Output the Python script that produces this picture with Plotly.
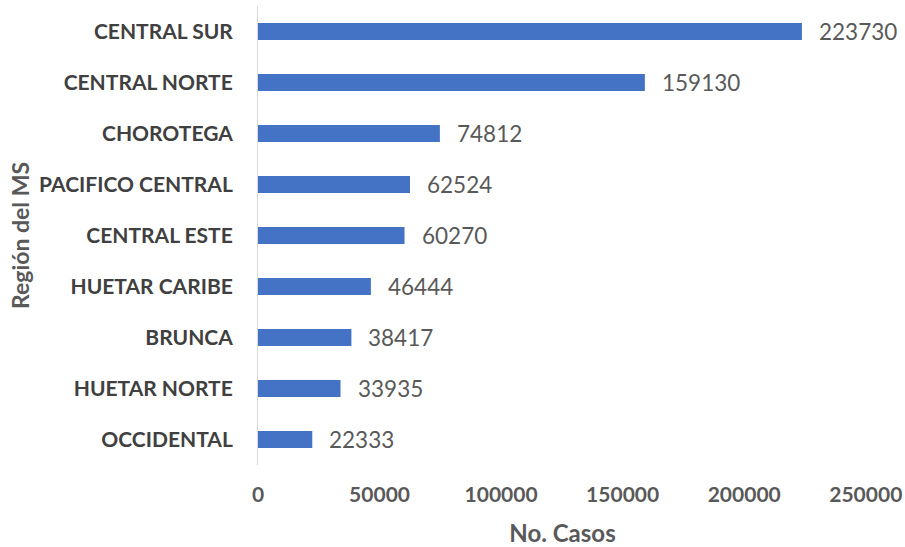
import plotly.graph_objects as go

# orden de abajo hacia arriba
regiones = ['OCCIDENTAL', 'HUETAR NORTE', 'BRUNCA', 'HUETAR CARIBE', 'CENTRAL ESTE',
            'PACIFICO CENTRAL', 'CHOROTEGA', 'CENTRAL NORTE', 'CENTRAL SUR']
casos = [22333, 33935, 38417, 46444, 60270, 62524, 74812, 159130, 223730]
x_ticks = [0, 50000, 100000, 150000, 200000, 250000]

FONT = 'Lato'

fig = go.Figure(go.Bar(
    x=casos,
    y=regiones,
    orientation='h',
    marker={'color': '#4472C4', 'line': {'width': 0}},
    hoverinfo='x+y'
))

for r, c in zip(regiones, casos):
    fig.add_annotation(
        x=c, y=r, text=str(c), xanchor='left', xshift=15,
        showarrow=False, font={'family': FONT, 'size': 22.5, 'color': '#595959'}
    )

fig.update_layout(
    width=905,
    height=547,
    margin={'l': 258, 'r': 38, 't': 6, 'b': 82},
    plot_bgcolor='white',
    paper_bgcolor='white',
    bargap=0.67,
    showlegend=False,
    font={'family': FONT, 'color': '#595959'},
    xaxis={
        'range': [0, 250500],
        'automargin': False,
        'tickvals': x_ticks,
        'ticktext': [str(v) for v in x_ticks],
        'showgrid': False,
        'zeroline': False,
        'showline': False,
        'tickfont': {'size': 21, 'color': '#595959', 'family': FONT, 'weight': 'bold'},
        'ticklabelstandoff': 15,
        'title': {'text': '<b>No. Casos</b>', 'font': {'size': 24, 'color': '#595959'},
                  'standoff': 21},
    },
    yaxis={
        'automargin': False,
        'showgrid': False,
        'zeroline': False,
        'showline': True,
        'linecolor': '#d9d9d9',
        'linewidth': 1,
        'tickfont': {'size': 21, 'color': '#404040', 'family': FONT, 'weight': 'bold'},
        'ticklabelstandoff': 20,
        'title': {'text': '<b>Región del MS</b>', 'font': {'size': 23, 'color': '#595959'},
                  'standoff': 3},
    },
)

# quitar el margen por defecto del body para que la figura quede en (0, 0)
fig.write_html("out.html", config={'displayModeBar': False},
               post_script="document.body.style.margin='0';")
